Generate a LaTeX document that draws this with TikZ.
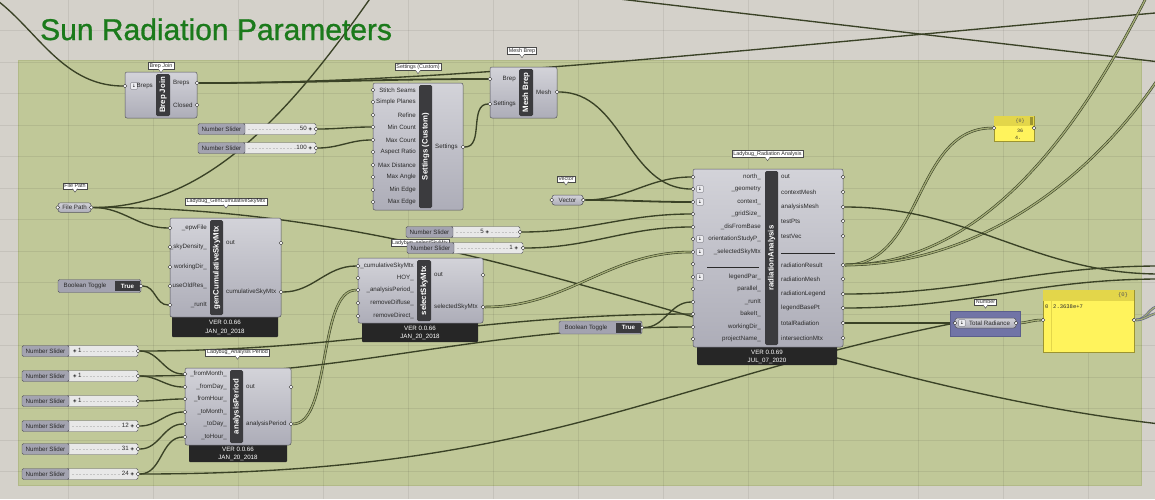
\documentclass[tikz,border=0pt]{standalone}
\usepackage{fontspec}
\setmainfont{Liberation Sans}
\newfontfamily\symf{DejaVu Sans}
\newfontfamily\monof{Liberation Mono}
\newfontfamily\titlef[FakeBold=0.9]{Liberation Sans}
\pgfdeclarelayer{back}
\pgfdeclarelayer{wires}
\pgfsetlayers{back,wires,main}

\definecolor{canvas}{HTML}{D4D1CA}
\definecolor{grpfill}{HTML}{C0C898}
\definecolor{grpedge}{HTML}{B2BA88}
\definecolor{titlec}{HTML}{1B7A1B}
\definecolor{wirec}{HTML}{3A4226}
\definecolor{wirel}{HTML}{A3AC76}
\definecolor{bodyt}{HTML}{D3D3D9}
\definecolor{bodyb}{HTML}{ADADB8}
\definecolor{edgec}{HTML}{55555C}
\definecolor{stripc}{HTML}{3B3B3E}
\definecolor{footc}{HTML}{262626}
\definecolor{slabc}{HTML}{A3A3B0}
\definecolor{strackc}{HTML}{E8E8E8}
\definecolor{tickc}{HTML}{C4C4C4}
\definecolor{textc}{HTML}{2A2A2A}
\definecolor{tipedge}{HTML}{4A4A4A}
\definecolor{numgrp}{HTML}{7174A6}
\definecolor{numedge}{HTML}{5B5E8C}
\definecolor{panelc}{HTML}{FFF35C}
\definecolor{panelh}{HTML}{E3D64A}
\definecolor{paneld}{HTML}{9C9430}
\definecolor{flagc}{HTML}{ECECF0}
\definecolor{bluewire}{HTML}{5A5F8A}

\newcommand{\ghf}{\fontsize{6.2}{7}\selectfont}
\newcommand{\ghs}{\fontsize{5.4}{6}\selectfont}
\newcommand{\ghb}{\fontsize{7.8}{8}\selectfont\bfseries}
\newcommand{\dia}{{\symf\fontsize{4.5}{5}\selectfont ◈}}

\tikzset{
  comp/.style={draw=edgec, line width=0.5pt, rounded corners=2pt, top color=bodyt, bottom color=bodyb},
  stripbox/.style={fill=stripc, rounded corners=1.5pt},
  footbox/.style={fill=footc, rounded corners=1pt},
  foottext/.style={font=\ghf, text=white, inner sep=0pt},
  port/.style={circle, draw=textc, fill=white, line width=0.4pt, inner sep=0pt, minimum size=3.6pt},
  inl/.style={font=\ghf, text=textc, anchor=east, inner sep=0pt},
  outl/.style={font=\ghf, text=textc, anchor=west, inner sep=0pt},
  striptext/.style={font=\ghb, text=white, rotate=90, inner sep=0pt},
  tip/.style={draw=tipedge, fill=white, font=\ghs, text=textc, inner xsep=1.5pt, inner ysep=1pt, line width=0.4pt},
  tipptr/.style={draw=tipedge, fill=white, line width=0.4pt},
  wire/.style={draw=wirec, line width=1.35pt},
  dwire/.style={draw=wirec, double=wirel, double distance=1.3pt, line width=0.6pt},
  flag/.style={draw=edgec, fill=flagc, rounded corners=0.6pt, minimum size=6.5pt, inner sep=0pt, line width=0.4pt, font=\symf\fontsize{4.5}{5}\selectfont},
  param/.style={draw=edgec, rounded corners=2.5pt, top color=bodyt, bottom color=bodyb, font=\ghf, text=textc, inner xsep=3pt, inner ysep=1.5pt, line width=0.5pt},
  slab/.style={draw=edgec, fill=slabc, line width=0.4pt, rounded corners=1.5pt},
  strack/.style={draw=edgec, fill=strackc, line width=0.4pt, rounded corners=1.5pt},
  togbox/.style={fill=stripc, font=\ghf\bfseries, text=white, inner sep=0pt},
  gridline/.style={draw=black, opacity=0.07, line width=0.6pt}
}

\begin{document}
\begin{tikzpicture}[x=1pt,y=-1pt]
\useasboundingbox (0,0) rectangle (1155,499);

% canvas, group and grid
\begin{pgfonlayer}{back}
\clip (0,0) rectangle (1155,499);
\fill[canvas] (0,0) rectangle (1155,499);
\draw[grpedge, fill=grpfill] (18,60) rectangle (1141,485);
\foreach \gx in {0,...,13} \draw[gridline] (68+85*\gx,0) -- (68+85*\gx,499);
\foreach \gy in {0,...,15} \draw[gridline] (0,30.5+31.5*\gy) -- (1155,30.5+31.5*\gy);
\end{pgfonlayer}

\node[font=\titlef\fontsize{30}{36}\selectfont, text=titlec, anchor=base west, inner sep=0pt] (title) at (40,40) {Sun Radiation Parameters};

% Brep Join
\draw[comp] (125,72) rectangle (197,118);
\fill[stripbox] (156,74) rectangle (170,116);
\node[striptext] (bj-s) at (163,95) {Brep Join};
\node[flag] (bj-f) at (134,86) {↓};
\node[inl] (bj-t) at (153,86) {Breps};
\node[port] (bj-in) at (125,86) {};
\node[outl] (bj-t1) at (173,83) {Breps};
\node[outl] (bj-t2) at (173,105) {Closed};
\node[port] (bj-o1) at (197,83) {};
\node[port] (bj-o2) at (197,105) {};
\node[tip] (bj-tip) at (161,66) {Brep Join};

% Settings (Custom)
\draw[comp] (373,83) rectangle (463,210);
\fill[stripbox] (419,85) rectangle (432,208);
\node[striptext] (set-s) at (425.5,146.5) {Settings (Custom)};
\foreach \n/\y/\lab in {ss/90/Stitch Seams, sp/102/Simple Planes, ref/115/Refine, minc/127/Min Count, maxc/140/Max Count, ar/152/Aspect Ratio, md/165/Max Distance, ma/177/Max Angle, mie/190/Min Edge, mae/202/Max Edge}{
  \node[inl] (set-\n-t) at (416,\y) {\lab};
  \node[port] (set-\n) at (373,\y) {};
}
\node[outl] (set-o-t) at (435,147) {Settings};
\node[port] (set-o) at (463,147) {};
\node[tip] (set-tip) at (418,67) {Settings (Custom)};

% Mesh Brep
\draw[comp] (490,67) rectangle (557,118);
\fill[stripbox] (519,69) rectangle (533,116);
\node[striptext] (mb-s) at (526,92.5) {Mesh Brep};
\node[inl] (mb-t1) at (516,79) {Brep};
\node[inl] (mb-t2) at (516,104) {Settings};
\node[port] (mb-brep) at (490,79) {};
\node[port] (mb-set) at (490,104) {};
\node[outl] (mb-t3) at (536,92) {Mesh};
\node[port] (mb-o) at (557,92) {};
\node[tip] (mb-tip) at (522,51) {Mesh Brep};

% File Path
\node[param, minimum width=33pt, minimum height=9.5pt] (fp) at (74.5,207.5) {File Path};
\node[port] (fp-i) at (fp.west) {};
\node[port] (fp-o) at (fp.east) {};
\node[tip] (fp-tip) at (75,186) {File Path};

% genCumulativeSkyMtx
\fill[footbox] (172,310) rectangle (278,337);
\draw[comp] (170,218) rectangle (281,317);
\fill[stripbox] (210,220) rectangle (223,315);
\node[striptext] (gc-s) at (216.5,267.5) {genCumulativeSkyMtx};
\foreach \n/\y/\lab in {epw/228/\_epwFile, den/247/\_skyDensity\_, wd/267/workingDir\_, old/286/useOldRes\_, run/305/\_runIt}{
  \node[inl] (gc-\n-t) at (207,\y) {\lab};
  \node[port] (gc-\n) at (170,\y) {};
}
\foreach \n/\y/\lab in {out/243/out, cum/292/cumulativeSkyMtx}{
  \node[outl] (gc-\n-t) at (226,\y) {\lab};
  \node[port] (gc-\n) at (281,\y) {};
}
\node[foottext] (gc-v) at (225,322) {VER 0.0.66};
\node[foottext] (gc-d) at (225,331.5) {JAN\_20\_2018};
\node[tip] (gc-tip) at (226,201.5) {Ladybug\_GenCumulativeSkyMtx};

% selectSkyMtx
\fill[footbox] (362,318) rectangle (478,342);
\draw[comp] (358,258) rectangle (483,323);
\fill[stripbox] (417,260) rectangle (431,321);
\node[striptext] (ss-s) at (424,290.5) {selectSkyMtx};
\foreach \n/\y/\lab in {cum/266/\_cumulativeSkyMtx, hoy/278/HOY\_, ap/290/\_analysisPeriod\_, rdif/303/removeDiffuse\_, rdir/316/removeDirect\_}{
  \node[inl] (ss-\n-t) at (414,\y) {\lab};
  \node[port] (ss-\n) at (358,\y) {};
}
\foreach \n/\y/\lab in {out/275/out, sel/307/selectedSkyMtx}{
  \node[outl] (ss-\n-t) at (434,\y) {\lab};
  \node[port] (ss-\n) at (483,\y) {};
}
\node[foottext] (ss-v) at (420,328) {VER 0.0.66};
\node[foottext] (ss-d) at (420,337) {JAN\_20\_2018};
\node[tip] (ss-tip) at (420,243) {Ladybug\_selectSkyMtx};

% Vector
\node[param, minimum width=31pt, minimum height=10pt] (vec) at (567.5,200) {Vector};
\node[port] (vec-i) at (vec.west) {};
\node[port] (vec-o) at (vec.east) {};
\node[tip] (vec-tip) at (566,179) {Vector};

% radiationAnalysis
\fill[footbox] (697,340) rectangle (837,365);
\draw[comp] (693,169) rectangle (843,347);
\fill[stripbox] (765,171) rectangle (778,345);
\node[striptext] (ra-s) at (771.5,258) {radiationAnalysis};
\foreach \n/\y/\lab/\fl in {north/177/north\_/0, geo/189/\_geometry/1, ctx/202/context\_/1, grid/214/\_gridSize\_/0, dis/227/\_disFromBase/0, ori/239/orientationStudyP\_/1, sky/252/\_selectedSkyMtx/1, emp/264//0, leg/277/legendPar\_/1, par/289/parallel\_/0, run/302/\_runIt/0, bake/314/bakeIt\_/0, work/327/workingDir\_/0, proj/339/projectName\_/0}{
  \node[inl] (ra-\n-t) at (761,\y) {\lab};
  \ifnum\fl=1 \node[flag] (ra-\n-f) at (700,\y) {↓}; \fi
  \node[port] (ra-\n) at (693,\y) {};
}
\foreach \n/\y/\lab in {out/177/out, cmesh/192/contextMesh, amesh/207/analysisMesh, tpts/221/testPts, tvec/236/testVec, res/265/radiationResult, rmesh/279/radiationMesh, rleg/294/radiationLegend, lbp/308/legendBasePt, tot/323/totalRadiation, imtx/338/intersectionMtx}{
  \node[outl] (ra-\n-t) at (781,\y) {\lab};
  \node[port] (ra-\n) at (843,\y) {};
}
\draw[textc, line width=0.5pt] (707,267) -- (759,267);
\draw[textc, line width=0.5pt] (781,253) -- (835,253);
\node[foottext] (ra-v) at (767,352) {VER 0.0.69};
\node[foottext] (ra-d) at (767,361) {JUL\_07\_2020};
\node[tip] (ra-tip) at (767.5,154) {Ladybug\_Radiation Analysis};

% analysisPeriod
\fill[footbox] (189,438) rectangle (287,462);
\draw[comp] (185,368) rectangle (291,445);
\fill[stripbox] (230,370) rectangle (243,443);
\node[striptext] (ap-s) at (236.5,406.5) {analysisPeriod};
\foreach \n/\y/\lab in {fm/374/\_fromMonth\_, fd/387/\_fromDay\_, fh/399/\_fromHour\_, tm/412/\_toMonth\_, td/424/\_toDay\_, th/437/\_toHour\_}{
  \node[inl] (ap-\n-t) at (227,\y) {\lab};
  \node[port] (ap-\n) at (185,\y) {};
}
\foreach \n/\y/\lab in {out/387/out, per/424/analysisPeriod}{
  \node[outl] (ap-\n-t) at (246,\y) {\lab};
  \node[port] (ap-\n) at (291,\y) {};
}
\node[foottext] (ap-v) at (238,449) {VER 0.0.66};
\node[foottext] (ap-d) at (238,458) {JAN\_20\_2018};
\node[tip] (ap-tip) at (237.5,352.5) {Ladybug\_Analysis Period};

% Number (Total Radiance)
\draw[numedge, fill=numgrp] (950,311) rectangle (1020,336);
\node[param, minimum width=61pt, minimum height=10pt] (ng) at (985.5,323) {\hspace{8pt}Total Radiance};
\node[flag] (ng-f) at (962,323) {↓};
\node[port] (ng-in) at (955,323) {};
\node[port] (ng-o) at (1016,323) {};
\node[tip] (ng-tip) at (985.5,302) {Number};

% panels
\draw[paneld, fill=panelc, line width=0.6pt] (1043,290) rectangle (1134,352);
\fill[panelh] (1043.3,290.3) rectangle (1133.7,301);
\draw[panelh, line width=0.4pt] (1051,301) -- (1051,351);
\node[font=\monof\fontsize{5.5}{6}\selectfont, text=textc!80] (pn-h) at (1123,295.5) {\{0\}};
\node[font=\monof\fontsize{5.5}{6}\selectfont, text=textc, anchor=west, inner sep=0pt] (pn-i) at (1045,306.5) {0};
\node[font=\monof\fontsize{5.5}{6}\selectfont, text=textc, anchor=west, inner sep=0pt] (pn-val) at (1053,306.5) {2.3638e+7};
\node[port] (pn-in) at (1043,320) {};
\node[port] (pn-o) at (1134,320) {};

\draw[paneld, fill=panelc, line width=0.6pt] (994,116) rectangle (1034,141);
\fill[panelh] (994.3,116.3) rectangle (1033.7,126);
\fill[paneld] (1029.5,117) rectangle (1033,125);
\node[font=\monof\fontsize{5}{6}\selectfont, text=textc!80] (sp-h) at (1020,121) {\{0\}};
\node[font=\monof\fontsize{5}{6}\selectfont, text=textc] (sp-a) at (1020,131) {36};
\node[font=\monof\fontsize{5}{6}\selectfont, text=textc] (sp-b) at (1018,137.5) {4.};
\node[port] (sp-in) at (994,128) {};
\node[port] (sp-o) at (1034,128) {};

% tooltip pointers
\foreach \tp in {bj-tip, set-tip, mb-tip, fp-tip, gc-tip, ss-tip, vec-tip, ra-tip, ap-tip, ng-tip}
  \filldraw[tipptr] (\tp.south) ++(-2.5,-0.5) -- ++(2.5,3.5) -- ++(2.5,-3.5);

% number sliders
\foreach \n/\x/\y/\w/\val/\vx/\va in {s50/198/129/118/50 \dia/313/east, s100/198/148/118/100 \dia/313/east, s5/406/232/114/5 \dia/490/east, s1/407/248/116/1 \dia/519/east, sa/22/351/116/\dia\ 1/72/west, sb/22/376/116/\dia\ 1/72/west, sc/22/401/116/\dia\ 1/72/west, sd/22/426/116/12 \dia/135/east, se/22/449/116/31 \dia/135/east, sf/22/474/116/24 \dia/135/east}{
  \draw[strack] (\x+45,\y-5.5) rectangle (\x+\w,\y+5.5);
  \draw[slab] (\x,\y-5.5) rectangle (\x+47,\y+5.5);
  \draw[tickc, line width=0.3pt, dash pattern=on 2pt off 1.5pt] (\x+50,\y) -- (\x+\w-4,\y);
  \node[font=\ghf, text=textc, anchor=\va, fill=strackc, inner sep=0.8pt] (\n-v) at (\vx,\y) {\val};
  \node[font=\ghf, text=textc] (\n-t) at (\x+23.5,\y) {Number Slider};
  \node[port] (\n) at (\x+\w,\y) {};
}

% boolean toggles
\foreach \n/\x/\y in {tg1/58/286, tg2/559/327.5}{
  \draw[slab] (\x,\y-6.5) rectangle (\x+83,\y+6.5);
  \node[font=\ghf, text=textc] (\n-t) at (\x+27,\y) {Boolean Toggle};
  \node[togbox, minimum width=25pt, minimum height=10pt] (\n-v) at (\x+69.5,\y) {True};
  \node[port] (\n) at (\x+83,\y) {};
}

% wire ends off the group
\coordinate (bj-far) at (-60,-20);
\coordinate (t2-end) at (1155,13);
\coordinate (t1-a) at (585,-5);
\coordinate (t1-b) at (1160,62);
\coordinate (fp-far) at (410,-60);
\coordinate (l5-end) at (1160,424);
\coordinate (r2-end) at (1150,-10);
\coordinate (r3-end) at (1170,60);
\coordinate (r4-end) at (1160,274);
\coordinate (r5-end) at (1160,266);
\coordinate (r6-end) at (1160,279);
\coordinate (pn-e1) at (1160,306);
\coordinate (pn-e2) at (1160,313);

\begin{pgfonlayer}{wires}
\clip (0,0) rectangle (1155,499);
\draw[wire] (bj-far) to[out=0,in=180] (bj-in);
\draw[wire, line width=1.8pt] (bj-o1) to[out=0,in=180] (mb-brep);
\draw[wire] (bj-o1) .. controls +(250,0) and +(-450,40) .. (t2-end);
\draw[wire] (t1-a) -- (t1-b);
\draw[wire] (fp-o) .. controls +(129,0) and +(-100,150) .. (fp-far);
\draw[wire] (fp-o) to[out=0,in=180] (gc-epw);
\draw[wire] (fp-o) .. controls +(390,-2) and +(-380,-44) .. (l5-end);
\draw[wire] (tg1) to[out=0,in=180] (gc-run);
\draw[wire] (gc-cum) to[out=0,in=180] (ss-cum);
\draw[wire] (s50) to[out=0,in=180] (set-minc);
\draw[wire] (s100) to[out=0,in=180] (set-maxc);
\draw[wire] (set-o) to[out=0,in=180] (mb-set);
\draw[wire] (mb-o) to[out=0,in=180] (ra-geo);
\draw[wire] (vec-o) to[out=0,in=180] (ra-north);
\draw[wire, line width=1.8pt] (vec-o) to[out=0,in=180] (ra-ctx);
\draw[wire] (s5) to[out=0,in=180] (ra-grid);
\draw[wire] (s1) to[out=0,in=180] (ra-dis);
\draw[dwire] (ss-sel) to[out=0,in=180] (ra-sky);
\draw[dwire] (ap-per) .. controls +(40,0) and +(-40,0) .. (ss-ap);
\foreach \src/\dst in {sa/fm, sb/fd, sc/fh, sd/tm, se/td, sf/th}
  \draw[wire] (\src) to[out=0,in=180] (ap-\dst);
\draw[wire] (sa) to[out=0,in=180] (ra-bake);
\draw[wire] (sb) to[out=0,in=180] (ra-work);
\draw[wire] (tg2) to[out=0,in=180] (ra-run);
\draw[wire] (sf) .. controls +(400,0) and +(-300,60) .. (ng-in);
\draw[wire] (ra-tot) -- (ng-in);
\draw[dwire] (ng-o) to[out=0,in=180] (pn-in);
\draw[dwire, draw=bluewire] (pn-o) to[out=0,in=180] (pn-e1);
\draw[dwire, draw=bluewire] (pn-o) to[out=0,in=180] (pn-e2);
\draw[dwire] (ra-res) to[out=0,in=180] (sp-in);
\draw[dwire] (ra-res) .. controls +(150,0) and +(-60,120) .. (r2-end);
\draw[dwire] (ra-res) .. controls +(150,0) and +(-60,100) .. (r3-end);
\draw[wire] (ra-amesh) to[out=0,in=180] (r4-end);
\draw[wire] (ra-rleg) to[out=0,in=180] (r5-end);
\draw[wire] (ra-lbp) to[out=0,in=180] (r6-end);
\end{pgfonlayer}
\end{tikzpicture}
\end{document}
